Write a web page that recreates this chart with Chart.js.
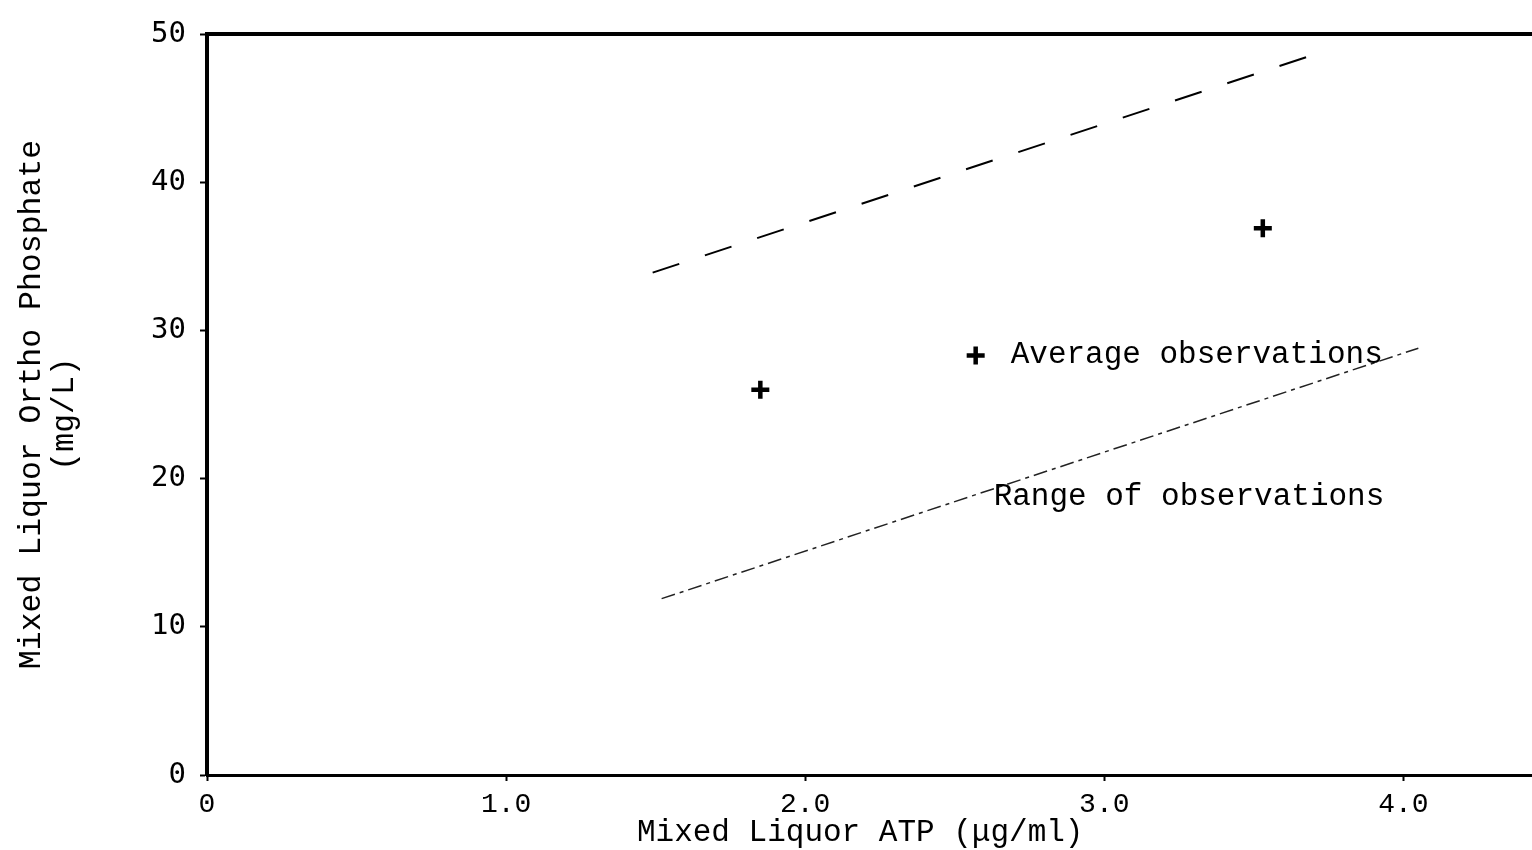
<!DOCTYPE html>
<html>
<head>
<meta charset="utf-8">
<script src="https://cdn.jsdelivr.net/npm/chart.js@4.4.1/dist/chart.umd.min.js"></script>
<style>
  html, body { margin: 0; padding: 0; background: #fff; }
  canvas { display: block; }
</style>
</head>
<body>
<canvas id="chart" width="1532" height="850"></canvas>
<script>
// Mixed liquor ortho-phosphate against mixed liquor ATP
const atpAverage = [1.85, 3.53];
const phosphateAverage = [26.0, 36.9];

// Dashed upper bound of the observed range
const upperRangeAtp = [1.49, 3.70];
const upperRangePhosphate = [33.9, 48.6];

// Dash-dot lower bound of the observed range
const lowerRangeAtp = [1.52, 4.05];
const lowerRangePhosphate = [11.9, 28.8];

const xTickValues = [0, 1, 2, 3, 4];
const xTickLabels = ['0', '1.0', '2.0', '3.0', '4.0'];
const yTickValues = [0, 10, 20, 30, 40, 50];

const xAxisTitle = 'Mixed Liquor ATP (\u03BCg/ml)';
const yAxisTitle = ['Mixed Liquor Ortho Phosphate', '(mg/L)'];
const keyLabels = ['Average observations', 'Range of observations'];

// Where the in-plot key entries sit, in axis units
const keyPlacement = {
  average: { x: 2.57, y: 28.3 },
  range: { x: 2.63, y: 18.8 }
};

const TYPE_FONT = '"Liberation Mono", "Courier New", monospace';
const INK = '#000';

const pairs = (xs, ys) => xs.map((v, i) => ({ x: v, y: ys[i] }));

// Keep the horizontal axes flush with the canvas edges
const flushHorizontal = (height) => s => {
  s.height = height;
  s.paddingLeft = 0;
  s.paddingRight = 0;
};

const inlineKey = {
  id: 'inlineKey',
  afterDatasetsDraw(chart) {
    const { ctx, scales: { x, y } } = chart;
    ctx.save();
    ctx.fillStyle = INK;
    ctx.strokeStyle = INK;
    ctx.lineWidth = 4.5;
    ctx.font = '31px ' + TYPE_FONT;
    ctx.textBaseline = 'middle';
    ctx.textAlign = 'left';

    const ax = x.getPixelForValue(keyPlacement.average.x);
    const ay = y.getPixelForValue(keyPlacement.average.y);
    Chart.helpers.drawPoint(ctx, { pointStyle: 'cross', radius: 9, borderWidth: 4.5, rotation: 0 }, ax, ay);
    ctx.fillText(keyLabels[0], ax + 35, ay - 1);

    const rx = x.getPixelForValue(keyPlacement.range.x);
    const ry = y.getPixelForValue(keyPlacement.range.y);
    ctx.fillText(keyLabels[1], rx, ry);
    ctx.restore();
  }
};

new Chart(document.getElementById('chart'), {
  type: 'scatter',
  data: {
    datasets: [
      {
        label: keyLabels[0],
        data: pairs(atpAverage, phosphateAverage),
        pointStyle: 'cross',
        pointRadius: 9,
        pointBorderWidth: 4.5,
        borderColor: INK,
        backgroundColor: INK,
        showLine: false
      },
      {
        label: keyLabels[1],
        data: pairs(upperRangeAtp, upperRangePhosphate),
        showLine: true,
        borderColor: INK,
        borderWidth: 2,
        borderDash: [28, 27],
        pointRadius: 0,
        fill: false
      },
      {
        label: keyLabels[1],
        data: pairs(lowerRangeAtp, lowerRangePhosphate),
        showLine: true,
        borderColor: '#222',
        borderWidth: 1.5,
        borderDash: [14, 5, 4, 5],
        pointRadius: 0,
        fill: false
      }
    ]
  },
  options: {
    responsive: false,
    animation: false,
    devicePixelRatio: 1,
    layout: { padding: 0, autoPadding: false },
    plugins: {
      legend: { display: false },
      tooltip: { enabled: false }
    },
    scales: {
      x: {
        type: 'linear',
        position: 'bottom',
        min: 0,
        max: 4.43,
        afterBuildTicks: s => { s.ticks = xTickValues.map(v => ({ value: v })); },
        afterFit: flushHorizontal(75),
        ticks: {
          callback: v => { const i = xTickValues.indexOf(v); return i >= 0 ? xTickLabels[i] : ''; },
          font: { family: TYPE_FONT, size: 28 },
          color: INK,
          padding: 7,
          maxRotation: 0,
          autoSkip: false
        },
        grid: { drawOnChartArea: false, drawTicks: true, tickLength: 6, tickWidth: 2, tickColor: INK },
        border: { display: true, color: INK, width: 3 },
        title: {
          display: true,
          text: xAxisTitle + ' ',
          color: INK,
          font: { family: TYPE_FONT, size: 31, lineHeight: 1 },
          padding: { top: 0, bottom: 2 }
        }
      },
      xTop: {
        type: 'linear',
        position: 'top',
        min: 0,
        max: 4.43,
        afterFit: flushHorizontal(34),
        ticks: { display: false },
        grid: { drawOnChartArea: false, drawTicks: false },
        border: { display: true, color: INK, width: 4 }
      },
      y: {
        type: 'linear',
        position: 'left',
        min: 0,
        max: 50,
        afterBuildTicks: s => { s.ticks = yTickValues.map(v => ({ value: v })); },
        afterFit: s => { s.width = 207; },
        ticks: {
          font: { family: '"DejaVu Sans Mono", monospace', size: 29 },
          color: INK,
          padding: 14
        },
        grid: { drawOnChartArea: false, drawTicks: true, tickLength: 7, tickWidth: 2, tickColor: INK },
        border: { display: true, color: INK, width: 4 },
        title: {
          display: true,
          text: [yAxisTitle[0], yAxisTitle[1] + ' '],
          color: INK,
          font: { family: TYPE_FONT, size: 31.5, lineHeight: 1.05 },
          padding: { top: 15, bottom: 0 }
        }
      }
    }
  },
  plugins: [inlineKey]
});
</script>
</body>
</html>
